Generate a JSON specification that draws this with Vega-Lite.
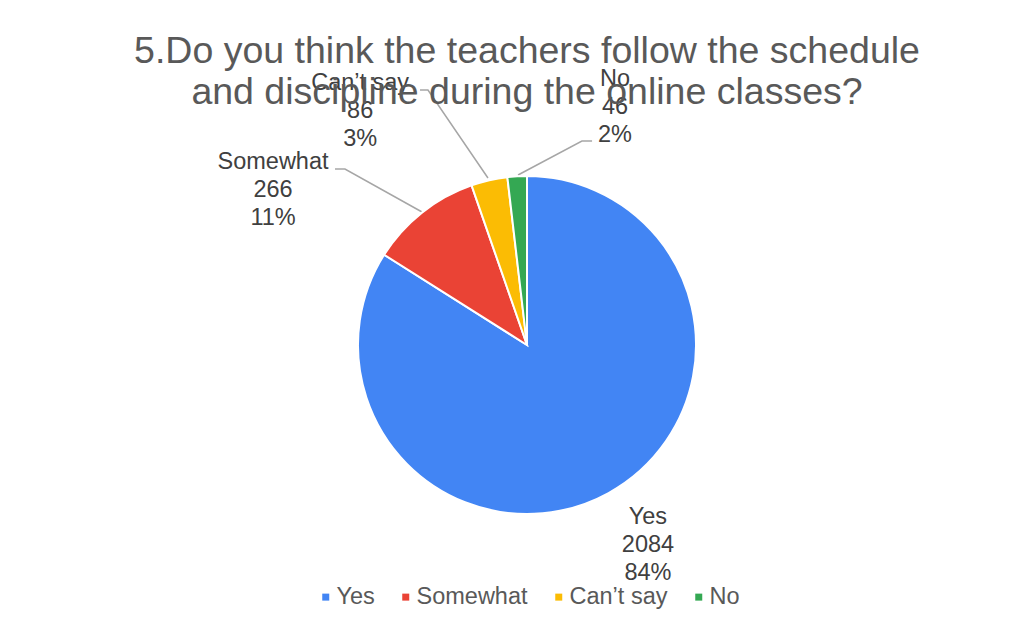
{
  "$schema": "https://vega.github.io/schema/vega-lite/v6.json",
  "autosize": "none",
  "width": 1012,
  "height": 460,
  "padding": {"left": 21, "top": 115, "right": 0, "bottom": 50},
  "background": "white",
  "title": {
    "text": ["5.Do you think the teachers follow the schedule", "and discipline during the online classes?"],
    "font": "Liberation Sans",
    "fontSize": 37.5,
    "fontWeight": "normal",
    "color": "#595959",
    "lineHeight": 41,
    "anchor": "middle",
    "offset": -46
  },
  "config": {
    "view": {"stroke": null},
    "font": "Liberation Sans"
  },
  "datasets": {
    "answers": [
      {"category": "Yes", "count": 2084},
      {"category": "Somewhat", "count": 266},
      {"category": "Can’t say", "count": 86},
      {"category": "No", "count": 46}
    ],
    "leaders": [
      {"category": "Somewhat", "step": 1, "px": -0.621, "py": 0.787},
      {"category": "Somewhat", "step": 2, "px": -1.077, "py": 1.041},
      {"category": "Somewhat", "step": 3, "px": -1.136, "py": 1.041},
      {"category": "Can’t say", "step": 1, "px": -0.231, "py": 0.988},
      {"category": "Can’t say", "step": 2, "px": -0.586, "py": 1.509},
      {"category": "Can’t say", "step": 3, "px": -0.633, "py": 1.509},
      {"category": "No", "step": 1, "px": -0.053, "py": 1.006},
      {"category": "No", "step": 2, "px": 0.325, "py": 1.207},
      {"category": "No", "step": 3, "px": 0.385, "py": 1.207}
    ]
  },
  "layer": [
    {
      "data": {"name": "leaders"},
      "mark": {"type": "line", "color": "#A6A6A6", "strokeWidth": 1.5},
      "encoding": {
        "x": {"field": "px", "type": "quantitative", "scale": {"domain": [-2.994, 2.994], "nice": false, "zero": false}, "axis": null},
        "y": {"field": "py", "type": "quantitative", "scale": {"domain": [-1.361, 1.361], "nice": false, "zero": false}, "axis": null},
        "detail": {"field": "category"},
        "order": {"field": "step"}
      }
    },
    {
      "data": {"name": "answers"},
      "transform": [
        {"joinaggregate": [{"op": "sum", "field": "count", "as": "total"}]},
        {"calculate": "datum.category + '\\n' + datum.count + '\\n' + format(datum.count / datum.total, '.0%')", "as": "label"}
      ],
      "encoding": {
        "theta": {"field": "count", "type": "quantitative", "stack": true},
        "order": {"field": "count", "sort": "descending"}
      },
      "layer": [
        {
          "mark": {"type": "arc", "outerRadius": 169, "stroke": "white", "strokeWidth": 2},
          "encoding": {
            "color": {
              "field": "category",
              "type": "nominal",
              "scale": {"domain": ["Yes", "Somewhat", "Can’t say", "No"], "range": ["#4285F4", "#EA4335", "#FBBC04", "#34A853"]},
              "legend": {
                "title": null,
                "orient": "none",
                "direction": "horizontal",
                "legendX": 293,
                "legendY": 470,
                "symbolType": "square",
                "symbolSize": 49,
                "symbolStrokeWidth": 0,
                "labelFont": "Liberation Sans",
                "labelFontSize": 23.5,
                "labelColor": "#595959",
                "labelOffset": -1,
                "columnPadding": 19
              }
            }
          }
        },
        {
          "mark": {"type": "text", "radius": 234, "dx": 8, "dy": -33, "lineBreak": "\n", "lineHeight": 28, "fontSize": 23.5, "color": "#404040", "align": "center", "baseline": "middle"},
          "encoding": {"text": {"condition": {"test": "datum.category === 'Yes'", "field": "label"}, "value": ""}}
        },
        {
          "mark": {"type": "text", "radius": 230, "dx": -111, "dy": -3, "lineBreak": "\n", "lineHeight": 28, "fontSize": 23.5, "color": "#404040", "align": "center", "baseline": "middle"},
          "encoding": {"text": {"condition": {"test": "datum.category === 'Somewhat'", "field": "label"}, "value": ""}}
        },
        {
          "mark": {"type": "text", "radius": 250, "dx": -111, "dy": -18, "lineBreak": "\n", "lineHeight": 28, "fontSize": 23.5, "color": "#404040", "align": "center", "baseline": "middle"},
          "encoding": {"text": {"condition": {"test": "datum.category === 'Can’t say'", "field": "label"}, "value": ""}}
        },
        {
          "mark": {"type": "text", "radius": 240, "dx": 102, "dy": -26, "lineBreak": "\n", "lineHeight": 28, "fontSize": 23.5, "color": "#404040", "align": "center", "baseline": "middle"},
          "encoding": {"text": {"condition": {"test": "datum.category === 'No'", "field": "label"}, "value": ""}}
        }
      ]
    }
  ]
}
